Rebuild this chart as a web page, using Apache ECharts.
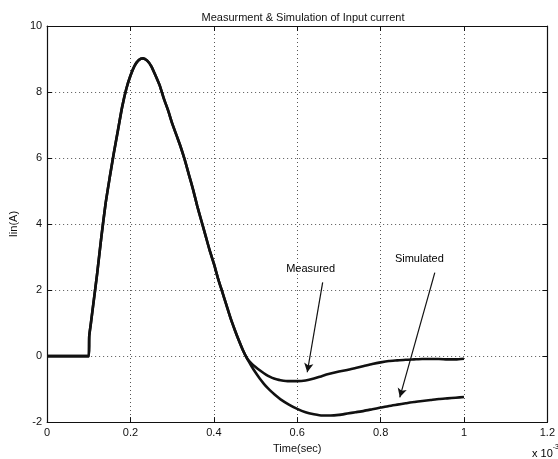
<!DOCTYPE html>
<html><head><meta charset="utf-8">
<script src="https://cdn.jsdelivr.net/npm/echarts@6/dist/echarts.min.js"></script>
<style>html,body{margin:0;padding:0;background:#fff}#c{width:558px;height:459px}</style>
</head><body><div id="c"></div>
<script>
// time in ms (axis shows x 10^-3 sec)
const sharedT = [0, 0.1, 0.101, 0.105, 0.11, 0.12, 0.13, 0.14, 0.15, 0.16, 0.17, 0.18, 0.19, 0.2, 0.21, 0.22, 0.23, 0.24, 0.25, 0.26, 0.27, 0.28, 0.29, 0.30, 0.31, 0.32, 0.33, 0.34, 0.35, 0.36, 0.37, 0.38, 0.39, 0.40, 0.41, 0.42, 0.43, 0.44, 0.45, 0.46, 0.47, 0.48];
const sharedV = [0, 0, 0.6, 1.0, 1.5, 2.5, 3.6, 4.6, 5.4, 6.15, 6.85, 7.55, 8.1, 8.5, 8.8, 8.97, 9.02, 8.95, 8.78, 8.5, 8.2, 7.8, 7.45, 7.05, 6.7, 6.35, 5.95, 5.5, 5.05, 4.55, 4.1, 3.65, 3.2, 2.8, 2.35, 1.95, 1.55, 1.15, 0.8, 0.47, 0.17, -0.08];
const tailT = [0.49, 0.50, 0.51, 0.52, 0.53, 0.54, 0.55, 0.56, 0.58, 0.60, 0.62, 0.64, 0.66, 0.68, 0.70, 0.72, 0.74, 0.76, 0.78, 0.80, 0.82, 0.84, 0.86, 0.88, 0.90, 0.92, 0.94, 0.96, 0.98, 1.0];
const measuredTail = [-0.22, -0.33, -0.43, -0.52, -0.6, -0.66, -0.7, -0.73, -0.76, -0.76, -0.74, -0.68, -0.6, -0.53, -0.47, -0.42, -0.36, -0.3, -0.24, -0.19, -0.15, -0.13, -0.11, -0.1, -0.09, -0.09, -0.09, -0.1, -0.1, -0.08];
const simulatedTail = [-0.3, -0.5, -0.68, -0.84, -0.98, -1.1, -1.21, -1.31, -1.47, -1.6, -1.7, -1.76, -1.8, -1.8, -1.78, -1.74, -1.7, -1.66, -1.61, -1.56, -1.51, -1.47, -1.43, -1.39, -1.36, -1.33, -1.3, -1.28, -1.26, -1.24];
const xTicks = [0, 0.2, 0.4, 0.6, 0.8, 1, 1.2];
const yTicks = [-2, 0, 2, 4, 6, 8, 10];
const labels = [
  {name: 'Measured', pos: [0.632, 2.65], arrowFrom: [0.661, 2.23], arrowTo: [0.624, -0.49]},
  {name: 'Simulated', pos: [0.893, 2.95], arrowFrom: [0.930, 2.53], arrowTo: [0.846, -1.25]}
];

function pairs(t, v) { return t.map((x, i) => [x, v[i]]); }
const measured = pairs(sharedT, sharedV).concat(pairs(tailT, measuredTail));
const simulated = pairs(sharedT, sharedV).concat(pairs(tailT, simulatedTail));

const font = 'Liberation Sans, Arial, sans-serif';
const gridLine = {show: true, lineStyle: {color: '#555', type: [1, 3], width: 1}};
const axLine = {show: true, onZero: false, lineStyle: {color: '#111', width: 1.2}};
const tick = {show: true, inside: true, length: 5, lineStyle: {color: '#111'}};
const chart = echarts.init(document.getElementById('c'));
chart.setOption({
  animation: false,
  title: {text: 'Measurment & Simulation of Input current', left: 298, textAlign: 'center', top: 7,
    textStyle: {fontFamily: font, fontSize: 11, fontWeight: 'normal', color: '#111'}},
  grid: {left: 43, right: 5, top: 26, bottom: 36},
  xAxis: [{
    type: 'value', min: 0, max: 1.2, interval: 0.2,
    name: 'Time(sec)', nameLocation: 'middle', nameGap: 18,
    nameTextStyle: {fontFamily: font, fontSize: 11, color: '#111'},
    axisLine: axLine, axisTick: tick,
    axisLabel: {fontFamily: font, fontSize: 11, color: '#111', margin: 5,
      formatter: v => xTicks.includes(+v.toFixed(1)) ? String(+v.toFixed(1)) : ''},
    splitLine: gridLine
  }, {
    type: 'value', min: 0, max: 1.2, interval: 0.2, position: 'top',
    axisLine: axLine, axisTick: tick,
    axisLabel: {show: false}, splitLine: {show: false}
  }],
  yAxis: [{
    type: 'value', min: -2, max: 10, interval: 2,
    name: 'Iin(A)', nameLocation: 'middle', nameGap: 18,
    nameTextStyle: {fontFamily: font, fontSize: 11, color: '#111'},
    axisLine: axLine, axisTick: tick,
    axisLabel: {fontFamily: font, fontSize: 11, color: '#111', margin: 5,
      formatter: v => yTicks.includes(v) ? String(v) : ''},
    splitLine: gridLine
  }, {
    type: 'value', min: -2, max: 10, interval: 2, position: 'right',
    axisLine: axLine, axisTick: tick,
    axisLabel: {show: false}, splitLine: {show: false}
  }],
  graphic: [{
    type: 'text', left: 532, top: 444,
    style: {text: '{a|x 10}{b|-3}', rich: {
      a: {fontFamily: font, fontSize: 11, color: '#111', verticalAlign: 'bottom'},
      b: {fontFamily: font, fontSize: 7, color: '#111', verticalAlign: 'top', padding: [0, 0, 8, 0]}
    }}
  }],
  series: [
    {name: 'Simulated', type: 'line', data: simulated, showSymbol: false, symbol: 'none', smooth: 0.2,
      lineStyle: {color: '#111', width: 2.6}, z: 3,
      markLine: {silent: true, symbol: ['none', 'arrow'], symbolSize: [7, 9],
        lineStyle: {color: '#111', width: 1.2, type: 'solid'}, label: {show: false},
        data: labels.map(l => [{coord: l.arrowFrom}, {coord: l.arrowTo}])}},
    {name: 'Measured', type: 'line', data: measured, showSymbol: false, symbol: 'none', smooth: 0.2,
      lineStyle: {color: '#111', width: 2.6}, z: 3},
    {type: 'scatter', data: labels.map(l => ({value: l.pos, name: l.name})), symbolSize: 0,
      itemStyle: {opacity: 1},
      label: {show: true, position: 'inside', formatter: p => p.name,
        fontFamily: font, fontSize: 11, color: '#000', opacity: 1}}
  ]
});
</script></body></html>
